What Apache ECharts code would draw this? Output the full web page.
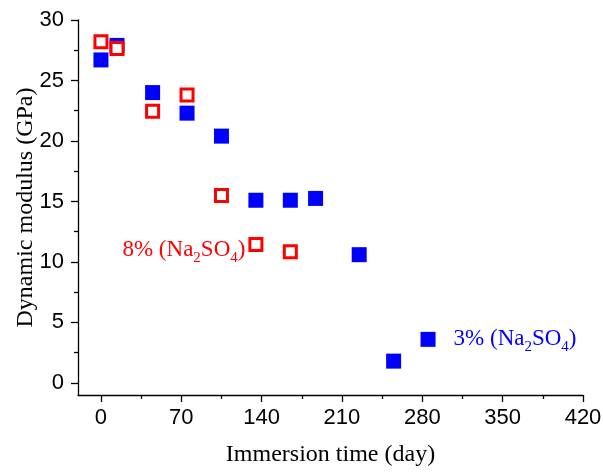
<!DOCTYPE html>
<html>
<head>
<meta charset="utf-8">
<script src="https://cdn.jsdelivr.net/npm/echarts@6/dist/echarts.min.js"></script>
<style>html,body{margin:0;padding:0;background:#fff}#c{width:603px;height:473px}</style>
</head>
<body>
<div id="c"></div>
<script>
// Data
var days3 = [0, 14, 45, 75, 105, 135, 165, 187, 225, 255, 285];
var modulus3 = [26.7, 27.9, 24.0, 22.3, 20.4, 15.1, 15.1, 15.25, 10.6, 1.8, 3.6];
var days8 = [0, 14, 45, 75, 105, 135, 165];
var modulus8 = [28.2, 27.65, 22.45, 23.8, 15.5, 11.45, 10.85];
var xTickLabels = [0, 70, 140, 210, 280, 350, 420];
var xMinorTicks = [35, 105, 175, 245, 315, 385];
var yTickLabels = [0, 5, 10, 15, 20, 25, 30];
var yMinorTicks = [2.5, 7.5, 12.5, 17.5, 22.5, 27.5];

function pairs(xs, ys) { return xs.map(function (x, i) { return [x, ys[i]]; }); }

var serif = '"Liberation Serif", "Times New Roman", serif';
var sans = '"Liberation Sans", Arial, sans-serif';

var rich = function (color) {
  return {
    n: { fontFamily: serif, fontSize: 23, color: color, lineHeight: 26 },
    s: { fontFamily: serif, fontSize: 15, color: color, verticalAlign: 'bottom', lineHeight: 31 }
  };
};

var chart = echarts.init(document.getElementById('c'), null, { renderer: 'canvas' });
chart.setOption({
  animation: false,
  backgroundColor: '#fff',
  grid: { left: 78, right: 20, top: 20, bottom: 78, containLabel: false, outerBoundsMode: 'none' },
  xAxis: [{
    type: 'value', min: -20, max: 420,
    name: 'Immersion time (day)', nameLocation: 'middle', nameGap: 48, nameMoveOverlap: false,
    nameTextStyle: { fontFamily: serif, fontSize: 24, color: '#000' },
    axisLine: { show: true, onZero: false, lineStyle: { color: '#000', width: 1.3 } },
    axisTick: { show: true, inside: false, length: 7, customValues: xTickLabels, lineStyle: { color: '#000', width: 1.3 } },
    axisLabel: { customValues: xTickLabels, fontFamily: sans, fontSize: 22, color: '#000', margin: 12 },
    splitLine: { show: false }
  }, {
    type: 'value', min: -20, max: 420, position: 'bottom',
    axisLine: { show: false, onZero: false },
    axisTick: { show: true, length: 4, customValues: xMinorTicks, lineStyle: { color: '#000', width: 1.3 } },
    axisLabel: { show: false },
    splitLine: { show: false }
  }],
  yAxis: [{
    type: 'value', min: -1, max: 30,
    name: 'Dynamic modulus (GPa)', nameLocation: 'middle', nameGap: 40, nameRotate: 90, nameMoveOverlap: false,
    nameTextStyle: { fontFamily: serif, fontSize: 24, color: '#000' },
    axisLine: { show: true, onZero: false, lineStyle: { color: '#000', width: 1.3 } },
    axisTick: { show: true, length: 7, customValues: yTickLabels, lineStyle: { color: '#000', width: 1.3 } },
    axisLabel: { customValues: yTickLabels, fontFamily: sans, fontSize: 22, color: '#000', margin: 14 },
    splitLine: { show: false }
  }, {
    type: 'value', min: -1, max: 30, position: 'left',
    axisLine: { show: false, onZero: false },
    axisTick: { show: true, length: 4, customValues: yMinorTicks, lineStyle: { color: '#000', width: 1.3 } },
    axisLabel: { show: false },
    splitLine: { show: false }
  }],
  series: [{
    name: '3%', type: 'scatter', symbol: 'rect', symbolSize: 15,
    itemStyle: { color: '#0000ff', opacity: 1 },
    data: pairs(days3, modulus3).map(function (p, i) {
      if (i === days3.length - 1) {
        return { value: p, label: { show: true, position: 'right', distance: 18,
          formatter: '{n|3% (Na}{s|2}{n|SO}{s|4}{n|)}', rich: rich('#0000ff') } };
      }
      return p;
    }),
    z: 2
  }, {
    name: '8%', type: 'scatter', symbol: 'rect', symbolSize: 12,
    itemStyle: { color: '#fff', borderColor: '#ff0000', borderWidth: 3, opacity: 1 },
    data: pairs(days8, modulus8).map(function (p, i) {
      if (i === 5) {
        return { value: p, label: { show: true, position: 'left', distance: 3, offset: [0, 6],
          formatter: '{n|8% (Na}{s|2}{n|SO}{s|4}{n|)}', rich: rich('#ff0000') } };
      }
      return p;
    }),
    z: 3
  }]
});
</script>
</body>
</html>
